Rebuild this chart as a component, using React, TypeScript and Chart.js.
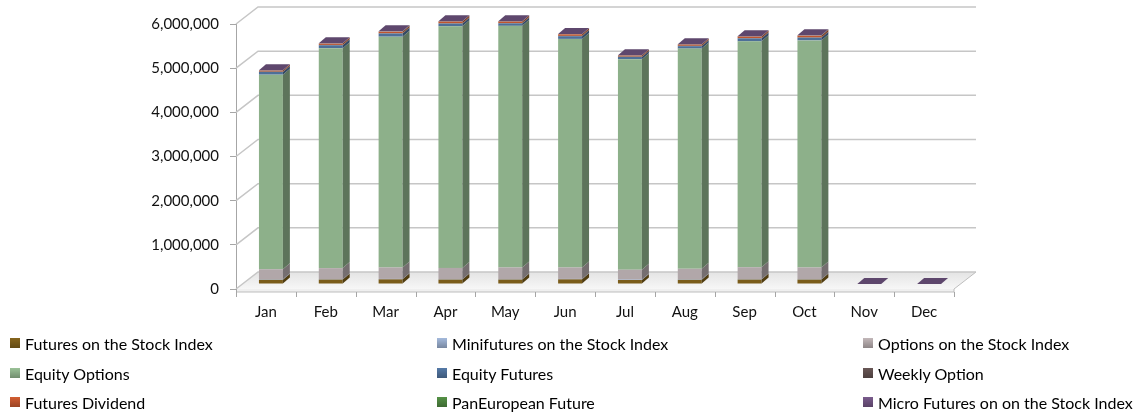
import React, { useEffect, useRef } from 'react';
import { Chart, registerables } from 'chart.js';

Chart.register(...registerables);

const months = ['Jan', 'Feb', 'Mar', 'Apr', 'May', 'Jun', 'Jul', 'Aug', 'Sep', 'Oct', 'Nov', 'Dec'];

const futuresStockIndex = [95000, 100000, 105000, 100000, 100000, 105000, 90000, 95000, 100000, 100000, 0, 0];
const minifuturesStockIndex = [10000, 10000, 10000, 10000, 10000, 10000, 10000, 10000, 10000, 10000, 0, 0];
const optionsStockIndex = [230000, 250000, 260000, 255000, 265000, 260000, 225000, 240000, 270000, 265000, 0, 0];
const equityOptions = [4405000, 4980000, 5225000, 5470000, 5470000, 5175000, 4765000, 4985000, 5115000, 5140000, 0, 0];
const equityFutures = [60000, 65000, 70000, 60000, 55000, 60000, 50000, 55000, 65000, 60000, 0, 0];
const weeklyOption = [8000, 8000, 8000, 8000, 8000, 8000, 8000, 8000, 8000, 8000, 0, 0];
const futuresDividend = [25000, 30000, 35000, 40000, 35000, 35000, 25000, 30000, 35000, 40000, 0, 0];
const panEuropeanFuture = [2000, 2000, 2000, 2000, 2000, 2000, 2000, 2000, 2000, 2000, 0, 0];
const microFutures = [5000, 5000, 5000, 5000, 5000, 5000, 5000, 5000, 5000, 5000, 0, 0];

const seriesNames = [
  'Futures on the Stock Index',
  'Minifutures on the Stock Index',
  'Options on the Stock Index',
  'Equity Options',
  'Equity Futures',
  'Weekly Option',
  'Futures Dividend',
  'PanEuropean Future',
  'Micro Futures on on the Stock Index',
];
const seriesValues = [
  futuresStockIndex,
  minifuturesStockIndex,
  optionsStockIndex,
  equityOptions,
  equityFutures,
  weeklyOption,
  futuresDividend,
  panEuropeanFuture,
  microFutures,
];
const seriesColors = ['#7A5C1A', '#95A9C8', '#B1A7A9', '#8DB08A', '#4D6F98', '#5F4F4E', '#C0552D', '#4D8540', '#6F5380'];

const yTicks = [0, 1000000, 2000000, 3000000, 4000000, 5000000, 6000000];

// geometry of the pseudo-3D look
const WALL_DX = 22;
const WALL_DY = -17;
const BAR_SHIFT_X = 5;
const BAR_SHIFT_Y = -5;
const BAR_DX = 7;
const BAR_DY = -6;

function shade(hex: string, f: number) {
  const n = parseInt(hex.slice(1), 16);
  const r = Math.round(((n >> 16) & 255) * f);
  const g = Math.round(((n >> 8) & 255) * f);
  const b = Math.round((n & 255) * f);
  return `rgb(${Math.min(255, r)},${Math.min(255, g)},${Math.min(255, b)})`;
}

const threeD = {
  id: 'threeD',
  beforeDatasetsDraw(chart: any) {
    const { ctx, chartArea, scales } = chart;
    const y = scales.y;
    const L = chartArea.left;
    const R = chartArea.right;
    const B = chartArea.bottom;
    ctx.save();
    // floor slab
    const grad = ctx.createLinearGradient(0, B + WALL_DY, 0, B);
    grad.addColorStop(0, '#E4E4E4');
    grad.addColorStop(1, '#F7F7F7');
    ctx.fillStyle = grad;
    ctx.beginPath();
    ctx.moveTo(L, B);
    ctx.lineTo(R, B);
    ctx.lineTo(R + WALL_DX, B + WALL_DY);
    ctx.lineTo(L + WALL_DX, B + WALL_DY);
    ctx.closePath();
    ctx.fill();
    ctx.fillStyle = '#EFEFEF';
    ctx.fillRect(L, B, R - L, 3);
    ctx.strokeStyle = '#BDBDBD';
    ctx.lineWidth = 1;
    ctx.beginPath();
    ctx.moveTo(L, B + 3);
    ctx.lineTo(R, B + 3);
    ctx.lineTo(R, B);
    ctx.lineTo(R + WALL_DX, B + WALL_DY);
    ctx.stroke();
    // gridlines on side and back walls
    ctx.strokeStyle = '#C6C6C6';
    ctx.lineWidth = 1.5;
    y.ticks.forEach((t: any) => {
      const py = y.getPixelForValue(t.value);
      ctx.beginPath();
      ctx.moveTo(L, py);
      ctx.lineTo(L + WALL_DX, py + WALL_DY);
      ctx.lineTo(R + WALL_DX, py + WALL_DY);
      ctx.stroke();
    });
    // category tick marks under the floor
    ctx.strokeStyle = '#A6A6A6';
    ctx.lineWidth = 1;
    const n = months.length;
    const w = (R - L) / n;
    for (let i = 1; i <= n; i++) {
      const px = Math.round(L + i * w) + 0.5;
      ctx.beginPath();
      ctx.moveTo(px, B + 3);
      ctx.lineTo(px, B + 8);
      ctx.stroke();
    }
    ctx.beginPath();
    ctx.moveTo(L + 0.5, B);
    ctx.lineTo(L + 0.5, B + 8);
    ctx.stroke();
    ctx.restore();
    ctx.save();
    ctx.translate(BAR_SHIFT_X, BAR_SHIFT_Y);
  },
  afterDatasetsDraw(chart: any) {
    const { ctx } = chart;
    const count = chart.data.datasets.length;
    for (let d = 0; d < count; d++) {
      const meta = chart.getDatasetMeta(d);
      const color = seriesColors[d];
      meta.data.forEach((el: any) => {
        const xr = el.x + el.width / 2;
        if (Math.abs(el.base - el.y) < 0.01) return;
        ctx.fillStyle = shade(color, 0.66);
        ctx.beginPath();
        ctx.moveTo(xr, el.y);
        ctx.lineTo(xr + BAR_DX, el.y + BAR_DY);
        ctx.lineTo(xr + BAR_DX, el.base + BAR_DY);
        ctx.lineTo(xr, el.base);
        ctx.closePath();
        ctx.fill();
      });
    }
    const topMeta = chart.getDatasetMeta(count - 1);
    topMeta.data.forEach((el: any) => {
      const xl = el.x - el.width / 2;
      const xr = el.x + el.width / 2;
      ctx.fillStyle = shade(seriesColors[count - 1], 0.85);
      ctx.beginPath();
      ctx.moveTo(xl, el.y);
      ctx.lineTo(xr, el.y);
      ctx.lineTo(xr + BAR_DX, el.y + BAR_DY);
      ctx.lineTo(xl + BAR_DX, el.y + BAR_DY);
      ctx.closePath();
      ctx.fill();
    });
    ctx.restore();
  },
};

const legendCols = [10, 437, 863];
const legendRows = [343, 373, 402];

export default function App() {
  const ref = useRef<HTMLCanvasElement | null>(null);
  useEffect(() => {
    if (!ref.current) return;
    const chart = new Chart(ref.current, {
      type: 'bar',
      data: {
        labels: months,
        datasets: seriesNames.map((name, i) => ({
          label: name,
          data: seriesValues[i],
          backgroundColor: seriesColors[i],
          borderWidth: 0,
          categoryPercentage: 1,
          barPercentage: 0.4,
          clip: false as any,
        })),
      },
      options: {
        responsive: false,
        devicePixelRatio: 1,
        animation: false,
        layout: { padding: { top: 24, right: 191, left: 0, bottom: 0 } },
        plugins: { legend: { display: false }, tooltip: { enabled: false } },
        scales: {
          x: {
            stacked: true,
            grid: { display: false, drawTicks: false },
            border: { display: false },
            ticks: { padding: 14, color: '#111', font: { family: 'Lato', size: 15 } },
            afterFit: (s: any) => {
              s.height = 128;
            },
          },
          y: {
            stacked: true,
            min: 0,
            max: 6000000,
            afterBuildTicks: (s: any) => {
              s.ticks = yTicks.map((v) => ({ value: v }));
            },
            grid: { drawOnChartArea: false, drawTicks: true, tickLength: 6, color: '#A6A6A6' },
            border: { display: true, color: '#A6A6A6' },
            ticks: {
              padding: 11,
              color: '#111',
              font: { family: 'Lato', size: 15 },
              callback: (v: any) => Number(v).toLocaleString('en-US'),
            },
            afterFit: (s: any) => {
              s.width = 236;
            },
          },
        },
      },
      plugins: [threeD],
    });
    return () => chart.destroy();
  }, []);

  return (
    <div style={{ position: 'absolute', left: 0, top: 0, width: 1145, height: 417, background: '#fff' }}>
      <canvas ref={ref} width={1145} height={417} style={{ width: 1145, height: 417, display: 'block' }} />
      {seriesNames.map((name, i) => {
        const col = i % 3;
        const row = Math.floor(i / 3);
        const c = seriesColors[i];
        return (
          <div
            key={name}
            style={{
              position: 'absolute',
              left: legendCols[col],
              top: legendRows[row] - 10,
              height: 20,
              display: 'flex',
              alignItems: 'center',
              fontFamily: 'Lato',
              fontSize: 16,
              color: '#000',
              whiteSpace: 'nowrap',
            }}
          >
            <span
              style={{
                display: 'inline-block',
                width: 10,
                height: 10,
                marginRight: 5,
                background: `linear-gradient(${shade(c, 1.1)}, ${shade(c, 0.8)})`,
              }}
            />
            {name}
          </div>
        );
      })}
    </div>
  );
}
